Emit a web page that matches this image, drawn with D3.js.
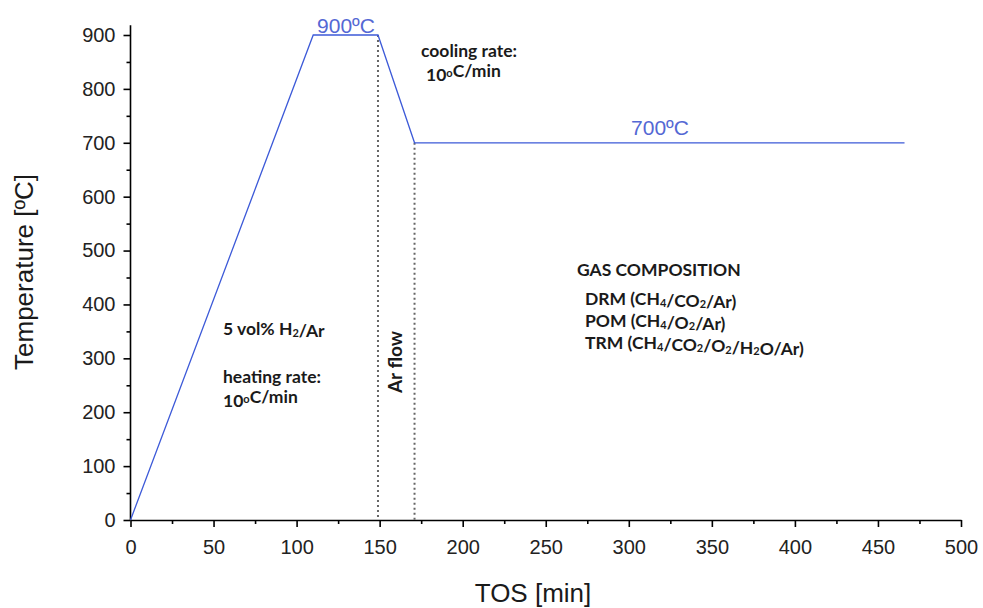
<!DOCTYPE html>
<html>
<head>
<meta charset="utf-8">
<script src="https://cdn.jsdelivr.net/npm/d3@7"></script>
<style>
  body { margin: 0; background: #fff; }
  svg { display: block; }
  .note { font-family: Lato, "Open Sans", sans-serif; font-weight: 700; font-size: 17.5px; fill: #1a1a1a; }
  .ticklbl { font-family: "Liberation Sans", Arial, sans-serif; font-size: 20px; fill: #222; }
</style>
</head>
<body>
<div id="chart"></div>
<script>
// Temperature program (TOS in min, temperature in °C)
const tosPoints = [0, 110, 149, 171, 466];
const tempPoints = [0, 900, 900, 700, 700];

// Dotted markers for gas switch
const markerTos = [149, 171];
const markerTemp = [900, 700];

// Axis ticks
const xTicks = [0, 50, 100, 150, 200, 250, 300, 350, 400, 450, 500];
const xMinor = [25, 75, 125, 175, 225, 275, 325, 375, 425, 475];
const yTicks = [0, 100, 200, 300, 400, 500, 600, 700, 800, 900];
const yMinor = [50, 150, 250, 350, 450, 550, 650, 750, 850];

const WIDTH = 983;
const HEIGHT = 608;

const svg = d3.select("#chart")
    .append("svg")
    .attr("width", WIDTH)
    .attr("height", HEIGHT);

const x = d3.scaleLinear().domain([0, 500]).range([130.5, 961]);
const y = d3.scaleLinear().domain([0, 900]).range([520, 35]);

// --------------- AXES ---------------
const xAxis = svg.append("g")
    .attr("transform", `translate(0,${y(0)})`)
    .call(d3.axisBottom(x).tickValues(xTicks).tickSize(7).tickSizeOuter(0).tickPadding(13));
xAxis.select(".domain").attr("stroke-width", 1.6);
xAxis.selectAll(".tick line").attr("stroke-width", 1.6);
xAxis.selectAll("text").attr("class", "ticklbl");

svg.append("g")
    .attr("transform", `translate(0,${y(0)})`)
    .call(d3.axisBottom(x).tickValues(xMinor).tickSize(4).tickFormat(""))
    .call(g => g.select(".domain").remove())
    .selectAll(".tick line").attr("stroke-width", 1.6);

const yAxis = svg.append("g")
    .attr("transform", `translate(${x(0)},0)`)
    .call(d3.axisLeft(y).tickValues(yTicks).tickSize(7).tickSizeOuter(0).tickPadding(8));
yAxis.select(".domain").remove();
yAxis.selectAll(".tick line").attr("stroke-width", 1.6);
yAxis.selectAll("text").attr("class", "ticklbl");

svg.append("g")
    .attr("transform", `translate(${x(0)},0)`)
    .call(d3.axisLeft(y).tickValues(yMinor).tickSize(4).tickFormat(""))
    .call(g => g.select(".domain").remove())
    .selectAll(".tick line").attr("stroke-width", 1.6);

// y axis line runs a little above 900
svg.append("line")
    .attr("x1", x(0)).attr("x2", x(0))
    .attr("y1", y(0)).attr("y2", y(918))
    .attr("stroke", "#000").attr("stroke-width", 1.6);

// Axis titles
svg.append("text")
    .attr("x", 533).attr("y", 602)
    .attr("text-anchor", "middle")
    .attr("font-family", "Liberation Sans, Arial, sans-serif")
    .attr("font-size", 26).attr("fill", "#1a1a1a")
    .text("TOS [min]");

svg.append("text")
    .attr("transform", "translate(33,272) rotate(-90)")
    .attr("text-anchor", "middle")
    .attr("font-family", "Liberation Sans, Arial, sans-serif")
    .attr("font-size", 26).attr("fill", "#1a1a1a")
    .text("Temperature [ºC]");

// --------------- MARKERS ---------------
svg.selectAll(".marker")
    .data(markerTos)
    .enter()
    .append("line")
    .attr("class", "marker")
    .attr("x1", d => x(d)).attr("x2", d => x(d))
    .attr("y1", (d, i) => y(markerTemp[i])).attr("y2", y(0))
    .attr("stroke", "#666")
    .attr("stroke-width", 2)
    .attr("stroke-dasharray", "2,3");

// --------------- PROFILE LINE ---------------
const line = d3.line()
    .x((d, i) => x(tosPoints[i]))
    .y(d => y(d));

svg.append("path")
    .datum(tempPoints)
    .attr("d", line)
    .attr("fill", "none")
    .attr("stroke", "#3d5ad8")
    .attr("stroke-width", 1.3);

// --------------- LABELS ---------------
svg.append("text")
    .attr("x", 346).attr("y", 33)
    .attr("text-anchor", "middle")
    .attr("font-family", "Liberation Sans, Arial, sans-serif")
    .attr("font-size", 21).attr("fill", "#5468d4")
    .text("900ºC");

svg.append("text")
    .attr("x", 660).attr("y", 135)
    .attr("text-anchor", "middle")
    .attr("font-family", "Liberation Sans, Arial, sans-serif")
    .attr("font-size", 21).attr("fill", "#5468d4")
    .text("700ºC");

// helper: text with sub/superscript parts, parts = [[text, "sub"|"sup"|""], ...]
function richText(px, py, parts) {
    const t = svg.append("text").attr("class", "note").attr("x", px).attr("y", py);
    parts.forEach(([s, kind]) => {
        const ts = t.append("tspan").text(s);
        if (kind === "sub") ts.attr("font-size", 11).attr("dy", 1.5);
        else if (kind === "sup") ts.attr("font-size", 11).attr("dy", -4);
        // restore baseline after shifted piece
        if (kind === "sub") t.append("tspan").attr("dy", -1.5).text("");
        if (kind === "sup") t.append("tspan").attr("dy", 4).text("");
    });
    return t;
}

richText(421, 57, [["cooling rate:", ""]]);
richText(426, 81, [["10", ""], ["o", "sup"], ["C/min", ""]]);

richText(223, 335, [["5 vol% H", ""], ["2", "sub"], ["/Ar", ""]]);
richText(223, 383, [["heating rate:", ""]]);
richText(223, 407, [["10", ""], ["o", "sup"], ["C/min", ""]]);

richText(577, 276, [["GAS COMPOSITION", ""]]);
richText(585, 305, [["DRM (CH", ""], ["4", "sub"], ["/CO", ""], ["2", "sub"], ["/Ar)", ""]]);
richText(585, 327, [["POM (CH", ""], ["4", "sub"], ["/O", ""], ["2", "sub"], ["/Ar)", ""]]);
richText(585, 349, [["TRM  (CH", ""], ["4", "sub"], ["/CO", ""], ["2", "sub"], ["/O", ""], ["2", "sub"], ["/H", ""], ["2", "sub"], ["O/Ar)", ""]]);

svg.append("text")
    .attr("class", "note")
    .attr("transform", "translate(402,362) rotate(-90)")
    .attr("text-anchor", "middle")
    .style("font-size", "19px")
    .text("Ar flow");
</script>
</body>
</html>
